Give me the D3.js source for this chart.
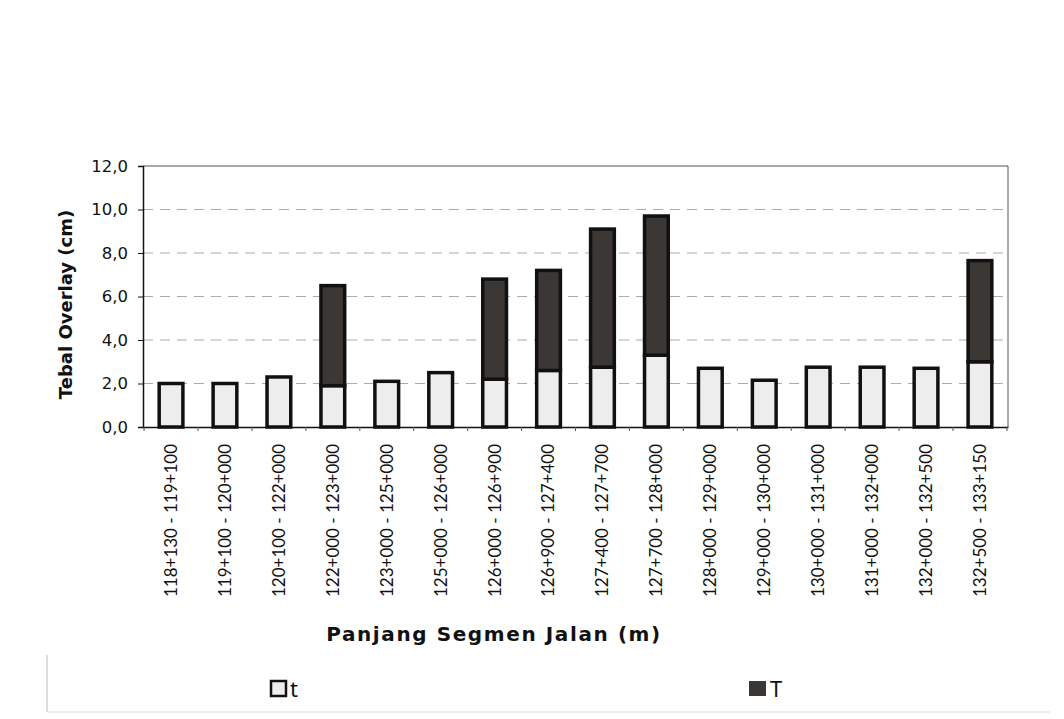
<!DOCTYPE html>
<html>
<head>
<meta charset="utf-8">
<script src="https://cdn.jsdelivr.net/npm/d3@7"></script>
<style>
  body { margin: 0; background: #fff; }
  svg { display: block; }
</style>
</head>
<body>
<div id="chart"></div>
<script>
const segments = [
  '118+130 - 119+100', '119+100 - 120+000', '120+100 - 122+000', '122+000 - 123+000',
  '123+000 - 125+000', '125+000 - 126+000', '126+000 - 126+900', '126+900 - 127+400',
  '127+400 - 127+700', '127+700 - 128+000', '128+000 - 129+000', '129+000 - 130+000',
  '130+000 - 131+000', '131+000 - 132+000', '132+000 - 132+500', '132+500 - 133+150'
];
const tValues = [2.0, 2.0, 2.3, 1.9, 2.1, 2.5, 2.2, 2.6, 2.75, 3.3, 2.7, 2.15, 2.75, 2.75, 2.7, 3.0];
const TValues = [0, 0, 0, 4.6, 0, 0, 4.6, 4.6, 6.35, 6.4, 0, 0, 0, 0, 0, 4.65];
const yTicks = [0, 2, 4, 6, 8, 10, 12];
const seriesNames = ['t', 'T'];

const width = 1064, height = 719;
const margin = { left: 143, right: 56, top: 166, bottom: 292 };

const svg = d3.select('#chart').append('svg')
  .attr('width', width)
  .attr('height', height);

const x = d3.scaleBand()
  .domain(segments)
  .range([margin.left, width - margin.right])
  .paddingInner(0.56)
  .paddingOuter(0.3);

const y = d3.scaleLinear()
  .domain([0, 12])
  .range([height - margin.bottom, margin.top]);

// faint outer chart frame (scanned look)
svg.append('line')
  .attr('x1', 47).attr('x2', 47).attr('y1', 655).attr('y2', 712)
  .attr('stroke', '#bbb').attr('stroke-width', 1);
svg.append('line')
  .attr('x1', 47).attr('x2', 1050).attr('y1', 712).attr('y2', 712)
  .attr('stroke', '#ddd').attr('stroke-width', 1);

// gridlines
svg.append('g')
  .selectAll('line')
  .data(yTicks.filter(d => d > 0 && d < 12))
  .enter().append('line')
  .attr('x1', margin.left).attr('x2', width - margin.right)
  .attr('y1', d => y(d)).attr('y2', d => y(d))
  .attr('stroke', '#aaa')
  .attr('stroke-width', 1)
  .attr('stroke-dasharray', '10,7');

// plot frame (top and right)
svg.append('path')
  .attr('d', `M${margin.left},${y(12)}H${width - margin.right}V${y(0)}`)
  .attr('fill', 'none')
  .attr('stroke', '#555')
  .attr('stroke-width', 1);

// stacked bars
const stackData = segments.map((s, i) => ({ seg: s, t: tValues[i], T: TValues[i] }));
const stacked = d3.stack().keys(seriesNames)(stackData);
const fills = { t: '#ededed', T: '#3b3734' };

svg.append('g')
  .selectAll('g')
  .data(stacked)
  .enter().append('g')
  .attr('fill', d => fills[d.key])
  .selectAll('rect')
  .data(d => d.filter(p => p[1] - p[0] > 0))
  .enter().append('rect')
  .attr('x', d => x(d.data.seg))
  .attr('y', d => y(d[1]))
  .attr('width', x.bandwidth())
  .attr('height', d => y(d[0]) - y(d[1]))
  .attr('stroke', '#111')
  .attr('stroke-width', 3.5);

// y axis
const yAxis = svg.append('g')
  .attr('transform', `translate(${margin.left},0)`)
  .call(d3.axisLeft(y)
    .tickValues(yTicks)
    .tickSize(5)
    .tickFormat(d => d3.format('.1f')(d).replace('.', ',')));
yAxis.select('.domain').attr('stroke', '#111').attr('stroke-width', 1.5);
yAxis.selectAll('.tick line').attr('stroke', '#111');
yAxis.selectAll('text')
  .attr('font-family', '"DejaVu Sans", Verdana, sans-serif')
  .attr('font-size', 16.5)
  .attr('fill', '#111')
  .attr('dx', -7);

// x axis
const xAxis = svg.append('g')
  .attr('transform', `translate(0,${y(0)})`)
  .call(d3.axisBottom(x).tickSize(0).tickPadding(18));
xAxis.select('.domain').attr('stroke', '#111').attr('stroke-width', 1.5);
xAxis.selectAll('text')
  .attr('font-family', 'Lato, "Noto Sans", sans-serif')
  .attr('font-size', 17)
  .attr('fill', '#111')
  .attr('transform', 'rotate(-90)')
  .attr('text-anchor', 'end')
  .attr('dy', '0.35em')
  .attr('x', -17)
  .attr('y', 0);

// small separator ticks between categories
const step = x.step();
xAxis.append('g')
  .selectAll('line')
  .data(d3.range(segments.length + 1))
  .enter().append('line')
  .attr('x1', i => margin.left + x.paddingOuter() * step + i * step - (x.paddingInner() * step) / 2)
  .attr('x2', i => margin.left + x.paddingOuter() * step + i * step - (x.paddingInner() * step) / 2)
  .attr('y1', 0).attr('y2', 4)
  .attr('stroke', '#555');

// axis titles
svg.append('text')
  .attr('transform', `translate(72,${(y(0) + y(12)) / 2 + 8}) rotate(-90)`)
  .attr('text-anchor', 'middle')
  .attr('font-family', '"DejaVu Sans", Verdana, sans-serif')
  .attr('font-weight', 'bold')
  .attr('font-size', 18)
  .attr('fill', '#111')
  .text('Tebal Overlay (cm)');

svg.append('text')
  .attr('x', 494)
  .attr('y', 641)
  .attr('text-anchor', 'middle')
  .attr('font-family', '"DejaVu Sans", Verdana, sans-serif')
  .attr('font-weight', 'bold')
  .attr('font-size', 20)
  .attr('letter-spacing', 1.6)
  .attr('fill', '#111')
  .text('Panjang Segmen Jalan (m)');

// legend
const legendPos = [271, 749];
const legend = svg.append('g')
  .selectAll('g')
  .data(seriesNames)
  .enter().append('g')
  .attr('transform', (d, i) => `translate(${legendPos[i]},681)`);
legend.append('rect')
  .attr('width', d => d === 't' ? 15 : 17)
  .attr('height', 15)
  .attr('fill', d => fills[d])
  .attr('stroke', '#111')
  .attr('stroke-width', d => d === 't' ? 2.5 : 0);
legend.append('text')
  .attr('x', d => d === 't' ? 19 : 21).attr('y', 16)
  .attr('font-family', '"Noto Sans", "Open Sans", sans-serif')
  .attr('font-size', 22)
  .attr('fill', '#111')
  .text(d => d);
</script>
</body>
</html>
